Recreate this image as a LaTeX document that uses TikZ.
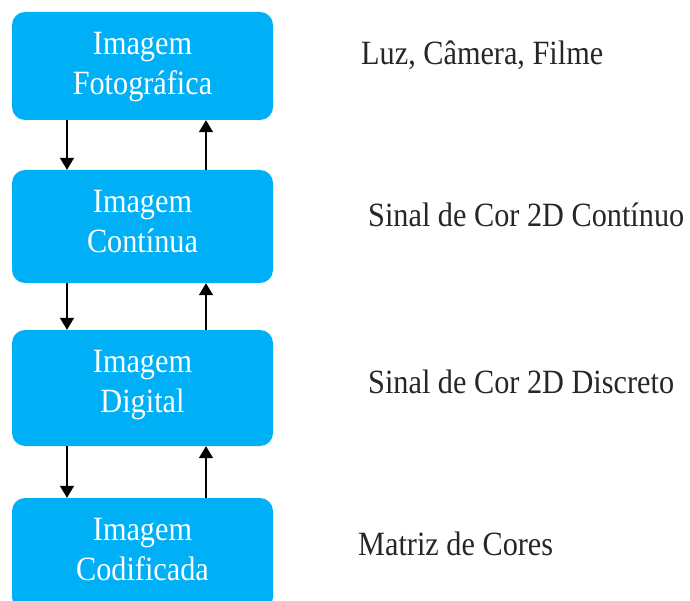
\documentclass[tikz,border=0pt]{standalone}
\usepackage{fontspec}
\setmainfont{Liberation Serif}[FakeStretch=0.89]
\usetikzlibrary{arrows.meta,positioning}
\definecolor{boxblue}{RGB}{0,176,246}
\begin{document}
\begin{tikzpicture}[x=1pt,y=-1pt,
  stage/.style={draw=none,fill=boxblue,rounded corners=13pt,
    inner sep=0pt,minimum width=261pt},
  caption/.style={text=white,align=center,inner sep=0pt,
    font=\fontsize{34}{40}\selectfont},
  note/.style={anchor=base west,inner sep=0pt,text=black!85,
    font=\fontsize{34}{40}\selectfont},
  flow/.style={line width=1.6pt,-{Triangle[length=12pt,width=14pt]}}]
\useasboundingbox (0,0) rectangle (690,601);
% stages of the image pipeline
\node[stage,minimum height=108pt] (b1) at (142.5,66) {};
\node[stage,minimum height=113pt] (b2) at (142.5,226.5) {};
\node[stage,minimum height=116pt] (b3) at (142.5,388) {};
\node[stage,minimum height=112pt] (b4) at (142.5,554) {};
\node[caption,below=20pt of b1.north] (c1) {Imagem\\Fotográfica};
\node[caption,below=20pt of b2.north] (c2) {Imagem\\Contínua};
\node[caption,below=20pt of b3.north] (c3) {Imagem\\Digital};
\node[caption,below=20pt of b4.north] (c4) {Imagem\\Codificada};
% descriptions on the right
\node[note] (t1) at (361,65) {Luz, Câmera, Filme};
\node[note] (t2) at (368,227) {Sinal de Cor 2D Contínuo};
\node[note] (t3) at (368,393) {Sinal de Cor 2D Discreto};
\node[note] (t4) at (358,555) {Matriz de Cores};
% columns of the down and up arrows
\coordinate (dn) at (67,0);
\coordinate (up) at (206,0);
\draw[flow] (b1.south -| dn) -- (b2.north -| dn);
\draw[flow] (b2.north -| up) -- (b1.south -| up);
\draw[flow] (b2.south -| dn) -- (b3.north -| dn);
\draw[flow] (b3.north -| up) -- (b2.south -| up);
\draw[flow] (b3.south -| dn) -- (b4.north -| dn);
\draw[flow] (b4.north -| up) -- (b3.south -| up);
\end{tikzpicture}
\end{document}
